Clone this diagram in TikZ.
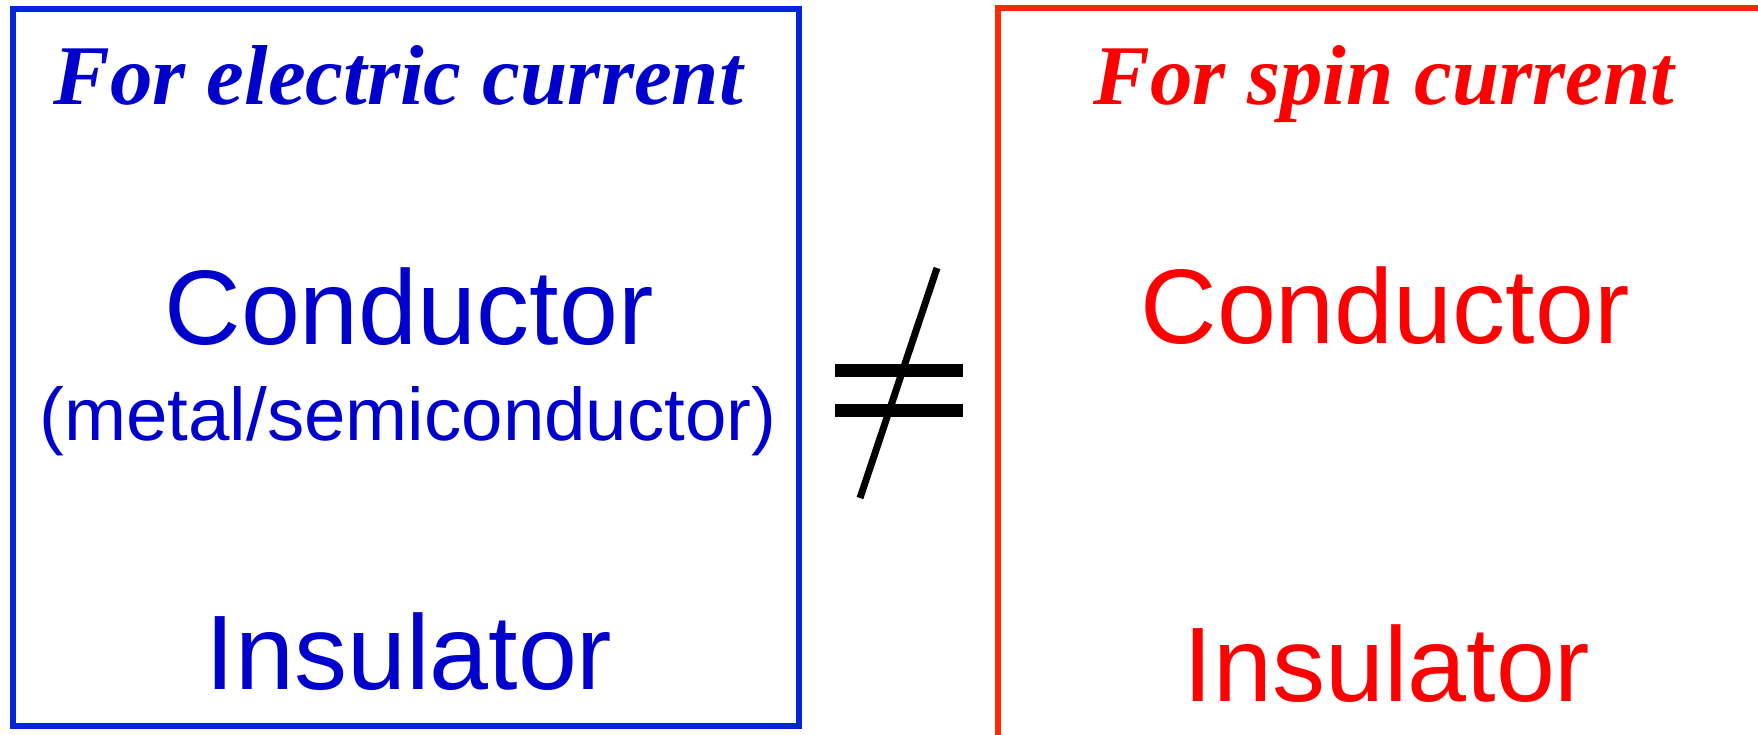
\documentclass[tikz,border=0pt]{standalone}
\usepackage{fontspec}
\setmainfont{Liberation Serif}
\setsansfont{Liberation Sans}
\definecolor{bluetxt}{RGB}{0,0,204}
\definecolor{bluebox}{RGB}{0,40,216}
\definecolor{redtxt}{RGB}{255,0,0}
\definecolor{redbox}{RGB}{255,40,0}
\begin{document}
\begin{tikzpicture}[x=1pt,y=-1pt,
  title/.style={anchor=base,inner sep=0pt,font=\fontsize{85}{100}\selectfont\rmfamily\bfseries\itshape},
  bigword/.style={anchor=base,inner sep=0pt,font=\fontsize{106}{120}\selectfont\sffamily},
  subword/.style={anchor=base,inner sep=0pt,font=\fontsize{74.5}{90}\selectfont\sffamily},
  framebox/.style={line width=6pt},
  neqbar/.style={line width=13pt},
  neqslash/.style={line width=7pt}]
\useasboundingbox (0,0) rectangle (1758,734);
\clip (0,0) rectangle (1758,734);
% boxes
\draw[framebox,bluebox] (13,9) rectangle (799,726);
\draw[framebox,redbox] (998,8) rectangle (1800,800);
% left texts
\node[title,text=bluetxt] (lt) at (398,104) {For electric current};
\node[bigword,text=bluetxt] (lc) at (409,344) {Conductor};
\node[subword,text=bluetxt] (lm) at (408,440) {(metal/semiconductor)};
\node[bigword,text=bluetxt] (li) at (409,689) {Insulator};
% right texts
\node[title,text=redtxt] (rt) at (1384,104) {For spin current};
\node[bigword,text=redtxt] (rc) at (1385,343) {Conductor};
\node[bigword,text=redtxt] (ri) at (1387,701) {Insulator};
% not-equal sign
\coordinate (b1l) at (835,370);
\coordinate (b1r) at (963,370);
\coordinate (b2l) at (835,410);
\coordinate (b2r) at (963,410);
\coordinate (st) at (937,268);
\coordinate (sb) at (860,498);
\draw[neqbar] (b1l) -- (b1r);
\draw[neqbar] (b2l) -- (b2r);
\draw[neqslash] (st) -- (sb);
\end{tikzpicture}
\end{document}
